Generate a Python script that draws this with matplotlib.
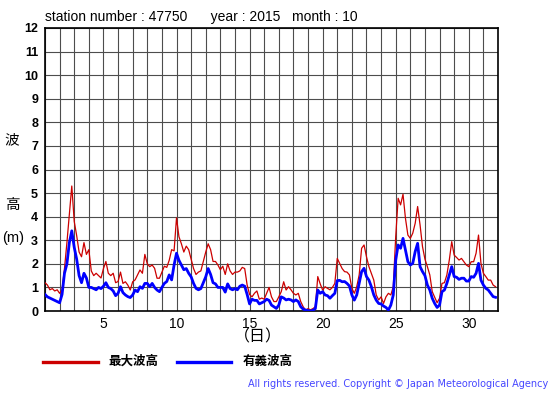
import matplotlib
matplotlib.use("Agg")
import matplotlib.pyplot as plt
from matplotlib.lines import Line2D
import numpy as np

plt.rcParams["font.family"] = ["Liberation Sans", "Noto Sans CJK JP", "DejaVu Sans"]

# ---- data: 4-hourly wave height (m), Oct 2015, station 47750 ----
STATION = "47750"
YEAR = 2015
MONTH = 10
STEPS_PER_DAY = 6

max_wave = [
    1.2, 1.1, 0.9, 0.95, 0.85, 0.9,       # 1
    0.75, 0.9, 1.8, 2.9, 4.1, 5.3,        # 2
    3.8, 3.2, 2.5, 2.3, 2.9, 2.4,         # 3
    2.6, 1.7, 1.5, 1.6, 1.5, 1.4,         # 4
    1.8, 2.1, 1.6, 1.5, 1.6, 1.2,         # 5
    1.25, 1.65, 1.17, 1.24, 1.1, 0.89,    # 6
    1.24, 1.32, 1.53, 1.74, 1.6, 2.4,     # 7
    2.0, 1.88, 1.95, 1.81, 1.39, 1.39,    # 8
    1.65, 1.9, 1.85, 2.15, 2.6, 2.55,     # 9
    3.95, 3.15, 2.85, 2.5, 2.75, 2.6,     # 10
    2.2, 1.8, 1.55, 1.65, 1.7, 2.1,       # 11
    2.5, 2.85, 2.6, 2.1, 2.1, 1.95,       # 12
    1.75, 1.9, 1.55, 2.0, 1.7, 1.55,      # 13
    1.65, 1.65, 1.7, 1.85, 1.8, 1.1,      # 14
    0.7, 0.6, 0.75, 0.85, 0.5, 0.55,      # 15
    0.5, 0.75, 1.0, 0.6, 0.4, 0.4,        # 16
    0.6, 0.82, 1.24, 0.89, 1.03, 0.9,     # 17
    0.75, 0.68, 0.75, 0.4, 0.18, 0.04,    # 18
    0.1, 0.05, 0.1, 0.18, 1.46, 1.15,     # 19
    0.89, 1.03, 0.96, 0.9, 1.0, 1.17,     # 20
    2.23, 2.02, 1.8, 1.67, 1.65, 1.53,    # 21
    0.96, 0.75, 1.03, 1.53, 2.66, 2.8,    # 22
    2.3, 1.88, 1.6, 1.31, 0.68, 0.47,     # 23
    0.6, 0.32, 0.6, 0.75, 0.68, 1.03,     # 24
    3.15, 4.78, 4.5, 4.95, 3.93, 3.22,    # 25
    3.08, 3.3, 3.72, 4.43, 3.65, 2.73,    # 26
    2.2, 1.88, 1.53, 0.82, 0.58, 0.35,    # 27
    0.54, 1.17, 1.2, 1.53, 2.16, 2.94,    # 28
    2.37, 2.27, 2.16, 2.23, 2.09, 1.95,   # 29
    1.88, 2.09, 2.09, 2.45, 3.22, 2.02,   # 30
    1.6, 1.46, 1.31, 1.31, 1.1, 1.03,     # 31
]

sig_wave = [
    0.7, 0.6, 0.55, 0.5, 0.45, 0.4,       # 1
    0.35, 0.7, 1.6, 2.0, 2.9, 3.4,        # 2
    2.7, 2.2, 1.5, 1.2, 1.6, 1.4,         # 3
    1.0, 1.0, 0.95, 0.9, 1.0, 0.95,       # 4
    1.05, 1.2, 1.0, 0.95, 0.85, 0.65,     # 5
    0.75, 1.03, 0.78, 0.68, 0.61, 0.57,   # 6
    0.68, 0.89, 0.82, 1.03, 0.96, 1.17,   # 7
    1.17, 1.03, 1.17, 1.0, 0.89, 0.82,    # 8
    1.0, 1.17, 1.25, 1.53, 1.32, 1.95,    # 9
    2.45, 2.15, 1.95, 1.75, 1.8, 1.6,     # 10
    1.45, 1.17, 0.96, 0.9, 0.95, 1.2,     # 11
    1.45, 1.8, 1.55, 1.2, 1.15, 1.0,      # 12
    1.0, 1.0, 0.8, 1.15, 0.95, 0.9,       # 13
    0.95, 0.9, 1.05, 1.1, 1.05, 0.7,      # 14
    0.3, 0.5, 0.45, 0.45, 0.3, 0.35,      # 15
    0.4, 0.5, 0.45, 0.25, 0.18, 0.11,     # 16
    0.25, 0.6, 0.55, 0.47, 0.5, 0.47,     # 17
    0.4, 0.47, 0.4, 0.18, 0.08, 0.04,     # 18
    0.02, 0.0, 0.03, 0.1, 0.89, 0.75,     # 19
    0.82, 0.68, 0.65, 0.54, 0.65, 0.75,   # 20
    1.29, 1.3, 1.24, 1.25, 1.17, 1.06,    # 21
    0.68, 0.46, 0.68, 1.17, 1.67, 1.81,   # 22
    1.46, 1.31, 1.03, 0.68, 0.46, 0.32,   # 23
    0.3, 0.21, 0.15, 0.04, 0.25, 0.68,    # 24
    2.16, 2.8, 2.66, 3.08, 2.59, 2.09,    # 25
    1.95, 2.02, 2.52, 2.87, 1.88, 1.67,   # 26
    1.5, 1.1, 0.89, 0.54, 0.32, 0.15,     # 27
    0.25, 0.82, 0.89, 1.17, 1.53, 1.88,   # 28
    1.46, 1.43, 1.34, 1.39, 1.39, 1.27,   # 29
    1.27, 1.46, 1.43, 1.6, 2.02, 1.31,    # 30
    1.1, 0.96, 0.89, 0.75, 0.61, 0.58,    # 31
]

x_ticks = [5, 10, 15, 20, 25, 30]
y_ticks = list(range(0, 13))

RED = "#cc0000"
BLUE = "#0000ff"
GRID = "#4d4d4d"

days = 1 + np.arange(len(max_wave)) / STEPS_PER_DAY

fig = plt.figure(figsize=(5.55, 3.95), dpi=100)
ax = fig.add_axes([45 / 555, 1 - 311 / 395, 453 / 555, 283 / 395])

ax.plot(days, max_wave, color=RED, linewidth=0.9, zorder=3)
ax.plot(days, sig_wave, color=BLUE, linewidth=2.0, zorder=4)

ax.set_xlim(1, 32)
ax.set_ylim(0, 12)
ax.set_xticks(range(1, 33), minor=True)
ax.set_xticks(x_ticks)
ax.set_yticks(y_ticks)
ax.set_yticklabels([str(v) for v in y_ticks], fontweight="bold", fontsize=9)
ax.tick_params(axis="both", which="both", length=0)
ax.tick_params(axis="y", pad=5)
ax.tick_params(axis="x", pad=4, labelsize=10)
ax.grid(which="both", color=GRID, linewidth=0.8, zorder=1)
for s in ax.spines.values():
    s.set_linewidth(1.2)
    s.set_color("black")

# title line
fig.text(45 / 555, 1 - 17 / 395,
         f"station number : {STATION}      year : {YEAR}   month : {MONTH}",
         fontsize=10, va="center", ha="left")

# y label pieces
fig.text(12 / 555, 1 - 140 / 395, "波", fontsize=10.5, ha="center", va="center")
fig.text(12 / 555, 1 - 205 / 395, "高", fontsize=10.5, ha="center", va="center")
fig.text(13 / 555, 1 - 238 / 395, "(m)", fontsize=10.5, ha="center", va="center")

# x label
fig.text(258 / 555, 1 - 337 / 395, "（日）", fontsize=11.5, ha="center", va="center")

# legend
fig.add_artist(Line2D([43 / 555, 98 / 555], [1 - 362 / 395] * 2,
                      color=RED, linewidth=2.4, transform=fig.transFigure))
fig.text(108 / 555, 1 - 362 / 395, "最大波高", fontsize=9, fontweight="bold",
         ha="left", va="center")
fig.add_artist(Line2D([177 / 555, 231 / 555], [1 - 362 / 395] * 2,
                      color=BLUE, linewidth=2.4, transform=fig.transFigure))
fig.text(243 / 555, 1 - 362 / 395, "有義波高", fontsize=9, fontweight="bold",
         ha="left", va="center")

fig.text(548 / 555, 1 - 384 / 395,
         "All rights reserved. Copyright © Japan Meteorological Agency",
         fontsize=7, color="#4646ff", ha="right", va="center",
         family=["DejaVu Sans"])

fig.savefig("out.png", dpi=100, facecolor="white")
